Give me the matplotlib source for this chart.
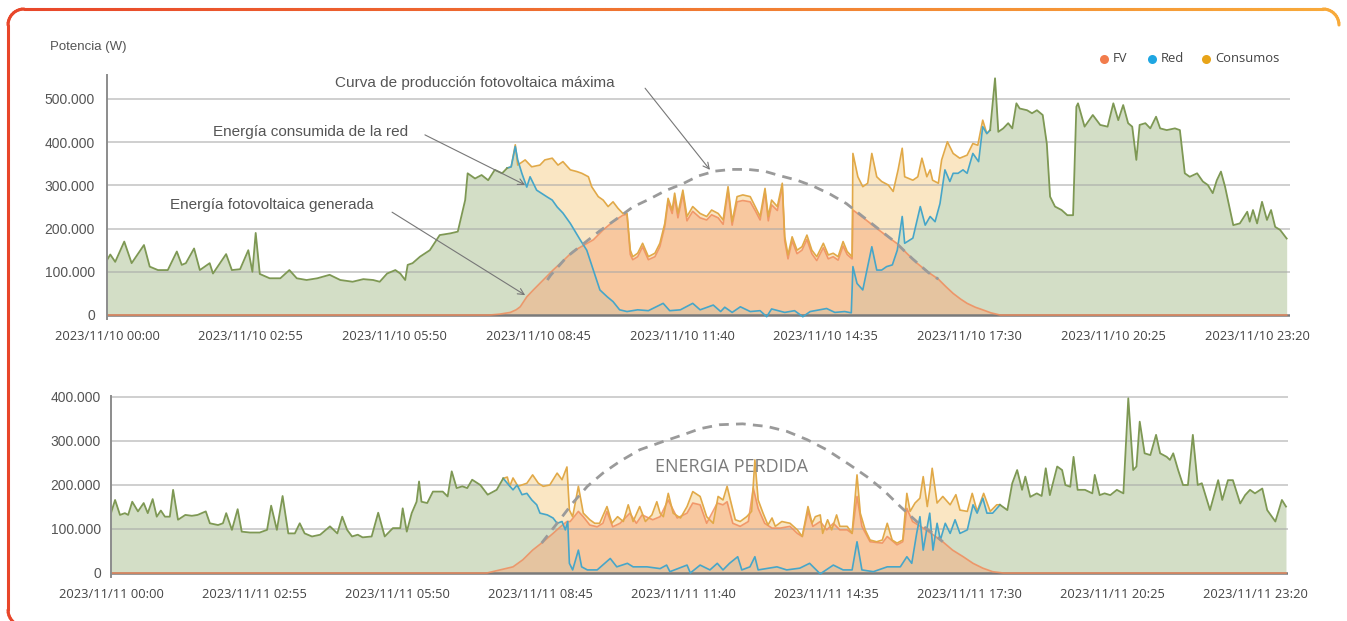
import numpy as np
import matplotlib
matplotlib.use("Agg")
import matplotlib.pyplot as plt
from matplotlib.collections import LineCollection
from matplotlib.ticker import FuncFormatter

# Minutes since 00:00 and power in kW (axis shows W)
# ---- 2023/11/10 ----
D1_CONS_T = [0, 4, 10, 21, 30, 45, 52, 62, 74, 85, 91, 96, 106, 113, 125, 129, 145, 152, 162, 172, 177, 181, 186,
             198, 211, 222, 231, 243, 256, 271, 284, 299, 312, 324, 332, 341, 351, 357, 363, 366, 372, 381, 393, 405,
             418, 427, 436, 439, 448, 456, 464, 472, 481, 487, 492, 497, 500, 509, 517, 527, 533, 542, 549, 555, 564,
             572, 578, 586, 590, 598, 604, 610, 616, 622, 628, 633, 637, 640, 646, 652, 659, 667, 673, 679, 683, 688,
             691, 695, 701, 706, 713, 722, 730, 736, 744, 750, 756, 761, 767, 774, 783, 789, 795, 801, 805, 809, 816,
             822, 825, 829, 834, 840, 846, 852, 858, 864, 872, 878, 884, 890, 896, 901, 907, 908, 914, 920, 926, 931,
             937, 943, 951, 957, 963, 968, 971, 981, 987, 992, 998, 1002, 1005, 1012, 1016, 1023, 1030, 1038, 1047,
             1054, 1060, 1066, 1071, 1075, 1081, 1085, 1091, 1097, 1102, 1107, 1111, 1120, 1126, 1132, 1139, 1144,
             1148, 1154, 1162, 1169, 1176, 1180, 1182, 1190, 1200, 1209, 1218, 1225, 1231, 1237, 1243, 1248, 1253,
             1257, 1264, 1270, 1277, 1282, 1290, 1300, 1306, 1312, 1318, 1327, 1334, 1340, 1346, 1351, 1356, 1361,
             1371, 1379, 1388, 1391, 1395, 1400, 1406, 1412, 1417, 1422, 1428, 1436]
D1_CONS_V = [127, 140, 123, 170, 120, 162, 112, 104, 104, 147, 116, 120, 154, 104, 120, 96, 141, 104, 106, 150, 100, 190,
             95, 85, 85, 104, 85, 81, 85, 93, 81, 77, 83, 81, 77, 96, 104, 96, 81, 116, 120, 135, 150, 185, 189, 193,
             266, 328, 316, 324, 312, 336, 328, 340, 343, 394, 347, 359, 343, 347, 359, 363, 347, 355, 336, 332, 328,
             320, 297, 274, 266, 251, 262, 247, 235, 235, 150, 135, 143, 166, 135, 143, 166, 212, 270, 243, 282, 235,
             289, 228, 251, 235, 228, 243, 235, 220, 297, 216, 274, 278, 274, 251, 228, 293, 228, 266, 251, 305, 181,
             139, 181, 150, 158, 185, 150, 135, 166, 139, 143, 135, 170, 147, 135, 374, 320, 297, 305, 374, 320, 309,
             301, 286, 336, 386, 320, 312, 320, 363, 320, 336, 312, 305, 359, 401, 374, 363, 370, 397, 393, 451, 420,
             428, 548, 424, 432, 444, 432, 490, 478, 474, 467, 474, 463, 397, 274, 251, 243, 231, 231, 482, 490, 436,
             463, 440, 436, 490, 451, 486, 444, 436, 359, 440, 444, 432, 459, 432, 428, 432, 428, 328, 320, 328, 309,
             301, 282, 312, 332, 297, 208, 212, 239, 216, 243, 212, 262, 220, 243, 204, 197, 177]
D1_RED_T = [487, 492, 497, 500, 505, 511, 515, 523, 536, 542, 548, 555, 564, 576, 584, 592, 600, 609, 616, 624, 633,
            646, 659, 677, 685, 698, 713, 722, 738, 747, 752, 761, 771, 783, 795, 803, 809, 825, 837, 847, 856, 876,
            886, 898, 906, 908, 913, 920, 931, 937, 943, 949, 956, 962, 968, 971, 981, 990, 996, 1002, 1008, 1014,
            1020, 1026, 1030, 1036, 1042, 1047, 1054, 1061, 1066, 1071, 1075]
D1_RED_V = [340, 343, 390, 359, 328, 296, 320, 289, 273, 266, 250, 236, 212, 174, 150, 104, 58, 42, 31, 12, 8,
            12, 10, 27, 10, 12, 27, 12, 23, 8, 18, 6, 19, 8, 10, -4, 14, 6, 10, -4, 8, 15,
            6, 8, 5, 112, 73, 58, 158, 104, 104, 112, 116, 150, 228, 166, 178, 251, 208, 228, 216, 258,
            336, 309, 328, 328, 336, 328, 374, 355, 436, 420, 428]
D1_FV_T = [0, 466, 478, 491, 498, 503, 511, 519, 531, 543, 555, 567, 579, 592, 604, 616, 628, 633, 637, 640, 646, 652,
           659, 667, 673, 679, 683, 688, 691, 695, 701, 706, 713, 722, 730, 736, 744, 750, 756, 761, 767, 774, 783,
           789, 795, 801, 805, 809, 816, 822, 825, 829, 834, 840, 846, 852, 858, 864, 872, 878, 884, 890, 896, 901,
           907, 908, 920, 932, 947, 962, 974, 986, 999, 1012, 1021, 1030, 1039, 1047, 1057, 1066, 1076, 1087, 1436]
D1_FV_V = [0, 0, 2, 6, 12, 19, 42, 58, 81, 104, 125, 147, 160, 174, 197, 216, 231, 233, 140, 128, 135, 158,
           128, 135, 158, 205, 262, 235, 272, 225, 280, 218, 240, 225, 220, 232, 225, 210, 288, 208, 262, 265, 262,
           242, 220, 285, 218, 255, 242, 298, 172, 130, 172, 142, 150, 175, 142, 126, 156, 130, 135, 127, 160, 140,
           130, 243, 226, 208, 186, 165, 142, 120, 100, 83, 66, 50, 37, 27, 18, 12, 5, 0, 0]
D1_MAX_T = [536, 540, 560, 580, 600, 620, 640, 660, 680, 700, 720, 740, 760, 780, 800, 820, 840, 860, 880, 900, 920,
            940, 960, 980, 1000, 1012]
D1_MAX_V = [81, 92, 135, 165, 195, 222, 250, 268, 288, 303, 322, 333, 337, 337, 333, 322, 312, 298, 280, 258, 228,
            198, 168, 131, 98, 83]

# ---- 2023/11/11 ----
D2_CONS_T = [0, 5, 11, 17, 21, 26, 33, 40, 45, 51, 56, 61, 66, 72, 76, 82, 91, 99, 106, 116, 121, 131, 137, 141, 148,
             155, 160, 170, 182, 191, 196, 203, 210, 217, 225, 231, 237, 246, 256, 268, 277, 283, 289, 295, 302, 308,
             319, 327, 335, 345, 354, 357, 362, 368, 374, 377, 380, 387, 394, 406, 412, 417, 423, 430, 436, 442, 452,
             461, 472, 480, 485, 488, 492, 498, 509, 516, 523, 529, 537, 546, 552, 558, 561, 565, 572, 578, 586, 592,
             598, 607, 613, 620, 627, 633, 639, 647, 654, 662, 668, 672, 676, 682, 688, 697, 705, 712, 721, 729, 737,
             743, 749, 754, 758, 764, 770, 778, 784, 788, 792, 798, 804, 809, 813, 821, 831, 840, 846, 853, 858, 862,
             868, 871, 877, 882, 888, 892, 901, 907, 913, 917, 923, 929, 937, 944, 950, 956, 962, 969, 974, 978, 984,
             990, 994, 999, 1002, 1005, 1011, 1018, 1027, 1034, 1039, 1048, 1054, 1060, 1068, 1076, 1084, 1088, 1097,
             1103, 1109, 1115, 1119, 1125, 1133, 1139, 1144, 1149, 1158, 1164, 1168, 1174, 1178, 1183, 1192, 1201,
             1204, 1210, 1216, 1223, 1231, 1239, 1245, 1251, 1255, 1259, 1265, 1272, 1279, 1284, 1292, 1296, 1300,
             1306, 1312, 1318, 1324, 1330, 1335, 1345, 1355, 1360, 1367, 1373, 1382, 1388, 1394, 1400, 1409, 1415,
             1425, 1433, 1438]
D2_CONS_V = [136, 166, 132, 136, 132, 162, 140, 159, 136, 168, 128, 142, 128, 128, 189, 121, 132, 130, 132, 140, 113,
             109, 113, 136, 98, 145, 94, 92, 92, 98, 153, 98, 175, 90, 90, 113, 90, 83, 87, 106, 90, 128, 98, 83, 87,
             81, 83, 137, 83, 102, 102, 147, 94, 136, 162, 208, 162, 159, 185, 185, 174, 231, 193, 197, 193, 212, 200,
             178, 189, 215, 218, 197, 216, 197, 204, 223, 204, 197, 200, 227, 212, 241, 143, 128, 197, 136, 121, 113,
             113, 151, 113, 128, 117, 155, 117, 151, 117, 132, 162, 136, 128, 181, 136, 125, 151, 185, 174, 128, 113,
             174, 166, 197, 166, 121, 117, 128, 140, 257, 166, 136, 109, 125, 106, 117, 113, 98, 83, 151, 113, 128,
             132, 90, 121, 98, 132, 106, 106, 90, 223, 136, 98, 75, 71, 75, 113, 75, 68, 75, 181, 140, 159,
             170, 219, 151, 189, 238, 159, 174, 155, 178, 143, 140, 181, 140, 181, 140, 155, 155, 143,
             204, 234, 189, 219, 173, 181, 175, 238, 177, 242, 234, 200, 196, 264, 189, 189, 181,
             223, 177, 181, 177, 189, 181, 397, 234, 242, 344, 272, 268, 314, 272, 264, 257, 272,
             234, 200, 200, 314, 200, 204, 143, 211, 166, 211, 211, 158, 177, 189, 181, 192, 143,
             117, 166, 151]
D2_RED_T = [480, 485, 492, 497, 503, 509, 515, 521, 525, 534, 541, 546, 552, 556, 559, 561, 565, 572, 576, 583, 595,
            611, 619, 632, 639, 656, 672, 680, 684, 705, 709, 721, 733, 742, 749, 757, 767, 772, 782, 788, 792, 815,
            827, 843, 855, 868, 884, 896, 907, 913, 919, 933, 950, 966, 974, 980, 986, 990, 994, 999, 1002, 1006,
            1011, 1015, 1021, 1027, 1033, 1039, 1048, 1055, 1060, 1067, 1072, 1079, 1088]
D2_RED_V = [215, 204, 189, 200, 178, 181, 166, 155, 136, 132, 125, 113, 117, 98, 117, 22, 7, 52, 14, 7, 7,
            33, 14, 22, 14, 14, 10, 18, 3, 18, 0, 18, 7, 22, 7, 22, 37, 7, 14, 37, 7, 14,
            7, 11, 22, -2, 18, 7, 7, 71, 7, 3, 14, 14, 37, 22, 90, 128, 52, 106, 136, 52,
            113, 75, 113, 90, 121, 90, 98, 155, 136, 170, 136, 136, 155]
D2_FV_T = [0, 460, 476, 492, 504, 516, 529, 541, 550, 558, 562, 572, 578, 586, 595, 602, 607, 614, 623, 635, 643, 650,
           663, 672, 682, 693, 705, 712, 721, 729, 742, 749, 754, 761, 770, 780, 786, 792, 800, 809, 819, 831, 840,
           846, 853, 859, 868, 876, 884, 892, 901, 907, 913, 919, 929, 944, 950, 962, 969, 974, 981, 994, 1006, 1018,
           1030, 1043, 1055, 1067, 1079, 1092, 1438]
D2_FV_V = [0, 0, 7, 14, 30, 52, 71, 90, 105, 117, 117, 140, 128, 109, 105, 113, 140, 105, 113, 136, 113, 132,
           121, 128, 166, 125, 136, 159, 155, 113, 159, 155, 162, 113, 106, 117, 193, 147, 113, 102, 102, 106, 90,
           83, 140, 106, 117, 98, 113, 98, 98, 90, 174, 106, 71, 68, 83, 64, 71, 147, 117, 102, 87, 71,
           52, 37, 22, 11, 3, 0, 0]
D2_MAX_T = [527, 546, 565, 583, 602, 623, 647, 676, 700, 721, 745, 773, 803, 827, 852, 876, 904, 925, 945, 966, 986,
            1006, 1018]
D2_MAX_V = [68, 113, 159, 197, 227, 254, 280, 299, 314, 328, 337, 339, 333, 322, 303, 280, 246, 219, 189, 151, 117,
            90, 71]

DAYS = ["2023/11/10", "2023/11/11"]
TICK_MIN = [0, 175, 350, 525, 700, 875, 1050, 1225, 1400]
TICK_HHMM = ["00:00", "02:55", "05:50", "08:45", "11:40", "14:35", "17:30", "20:25", "23:20"]
LEGEND = ["FV", "Red", "Consumos"]

# colours
CONS_FILL = "#fae6c3"
RED_FILL = "#d3dec6"
FV_FILL = "#f7ab7c"
FV_LINE = "#f08c5c"
CONS_LINE = "#e1a948"
NIGHT_LINE = "#7e9854"
RED_LINE = "#46a6c9"
MAX_LINE = "#9a9a9a"
TXT = "#555555"

W, H = 1347, 621
fig = plt.figure(figsize=(W / 100, H / 100), dpi=100)


def px_axes(x0, y_top, w, y_bot):
    return fig.add_axes([x0 / W, (H - y_bot) / H, w / W, (y_bot - y_top) / H])


def draw_day(ax, ct, cv, rt, rv, ft, fv, mt, mv):
    ct, rt, ft, mt = map(np.asarray, (ct, rt, ft, mt))
    cv, rv, fv, mv = [np.asarray(v, dtype=float) * 1000 for v in (cv, rv, fv, mv)]
    t0, t1 = rt[0], rt[-1]
    night = (ct <= t0) | (ct >= t1)
    day = (ct >= t0) & (ct <= t1)

    # grid-supplied area: consumption at night, grid curve during the day (one polygon, no seams)
    gt = np.concatenate([ct[ct < t0], rt, ct[ct > t1]])
    gv = np.concatenate([cv[ct < t0], rv, cv[ct > t1]])

    ax.fill_between(ct, 0, cv, where=day, color=CONS_FILL, lw=0, zorder=1)
    ax.fill_between(gt, 0, gv, color=RED_FILL, lw=0, zorder=1.1)
    ax.fill_between(ft, 0, fv, color=FV_FILL, alpha=0.5, lw=0, zorder=1.2)

    for g in ax.get_yticks()[1:]:
        ax.axhline(g, color="#a8a8a8", alpha=0.55, lw=1.4, zorder=1.5)
    ax.axhline(0, color="#7a7a7a", lw=1.8, zorder=1.6)

    ax.plot(ft, fv, color=FV_LINE, lw=1.2, alpha=0.85, zorder=2)
    ax.plot(ct, np.where(day, cv, np.nan), color=CONS_LINE, lw=1.2, zorder=2.2)
    ax.plot(rt, rv, color=RED_LINE, lw=1.2, zorder=2.3)
    ax.plot(ct, np.where(night, cv, np.nan), color=NIGHT_LINE, lw=1.3, zorder=2.4)
    ax.plot(mt, mv, color=MAX_LINE, lw=2.0, dashes=(3.5, 2.6), zorder=3)


def style_axes(ax, ymin, ymax, ystep, day, ypad):
    ax.set_xlim(0, 1440)
    ax.set_ylim(ymin, ymax)
    ax.set_yticks(np.arange(0, ymax, ystep))
    ax.yaxis.set_major_formatter(FuncFormatter(lambda v, p: f"{int(round(v)):,}".replace(",", ".")))
    ax.set_xticks(TICK_MIN)
    ax.set_xticklabels([f"{day} {h}" for h in TICK_HHMM], fontfamily="Open Sans", fontsize=9.3, color="#444444")
    for lab in ax.get_yticklabels():
        lab.set_fontfamily("Liberation Sans")
        lab.set_fontsize(10)
        lab.set_color(TXT)
    ax.tick_params(axis="x", length=0, pad=8)
    ax.tick_params(axis="y", length=0, pad=ypad)
    for s in ("top", "right", "bottom"):
        ax.spines[s].set_visible(False)
    ax.spines["left"].set_color("#8c8c8c")
    ax.spines["left"].set_linewidth(1.4)
    ax.patch.set_alpha(0)


# top panel: 0 W at y=315 px, 43.2 px per 100 kW
ax1 = px_axes(107, 315 - 555 * 0.432, 1440 * 0.8215, 315 + 10 * 0.432)
style_axes(ax1, -10000, 555000, 100000, DAYS[0], 8.6)
draw_day(ax1, D1_CONS_T, D1_CONS_V, D1_RED_T, D1_RED_V, D1_FV_T, D1_FV_V, D1_MAX_T, D1_MAX_V)

# bottom panel: 0 W at y=573 px, 44 px per 100 kW
ax2 = px_axes(111, 573 - 402 * 0.44, 1440 * 0.8171, 573 + 8 * 0.44)
style_axes(ax2, -8000, 402000, 100000, DAYS[1], 7.2)
draw_day(ax2, D2_CONS_T, D2_CONS_V, D2_RED_T, D2_RED_V, D2_FV_T, D2_FV_V, D2_MAX_T, D2_MAX_V)

# annotations
arrow = dict(arrowstyle="->", color="#777777", lw=0.8, shrinkA=0, shrinkB=0, mutation_scale=11)
lab_kw = dict(fontfamily="Liberation Sans", fontsize=11, color=TXT, va="center", ha="left", zorder=6)
ax1.text(278, 537000, "Curva de producción fotovoltaica máxima", **lab_kw)
ax1.annotate("", xy=(734, 336000), xytext=(655, 525000), arrowprops=arrow, zorder=6)
ax1.text(129, 424000, "Energía consumida de la red", **lab_kw)
ax1.annotate("", xy=(509, 301000), xytext=(387, 417000), arrowprops=arrow, zorder=6)
ax1.text(77, 255000, "Energía fotovoltaica generada", **lab_kw)
ax1.annotate("", xy=(509, 46000), xytext=(347, 238000), arrowprops=arrow, zorder=6)
ax2.text(666, 241000, "ENERGIA PERDIDA", fontfamily="Open Sans", fontsize=13, color="#7b7b7b",
         va="center", ha="left", zorder=6)

# overlay in pixel coordinates: frame, unit label, legend
bg = fig.add_axes([0, 0, 1, 1], zorder=-1)
bg.set_xlim(0, W)
bg.set_ylim(H, 0)
bg.axis("off")

r, x0, y0, x1, yb = 16, 8, 9, 1339, 626
pts = [(x0 + r + r * np.cos(a), yb - r + r * np.sin(a)) for a in np.linspace(np.pi / 2, np.pi, 10)]
pts += [(x0, y) for y in np.linspace(yb - r, y0 + r, 40)]
pts += [(x0 + r + r * np.cos(a), y0 + r + r * np.sin(a)) for a in np.linspace(np.pi, 1.5 * np.pi, 12)]
pts += [(x, y0) for x in np.linspace(x0 + r, x1 - r, 200)]
pts += [(x1 - r + r * np.cos(a), y0 + r + r * np.sin(a)) for a in np.linspace(1.5 * np.pi, 2 * np.pi, 12)]
pts = np.array(pts)
segs = np.stack([pts[:-1], pts[1:]], axis=1)
frac = np.clip((segs[:, :, 0].mean(axis=1) - x0) / (x1 - x0), 0, 1)
c0, c1 = np.array([232, 70, 42]) / 255, np.array([248, 170, 58]) / 255
cols = c0[None, :] * (1 - frac[:, None]) + c1[None, :] * frac[:, None]
bg.add_collection(LineCollection(segs, colors=cols, linewidths=2.2, capstyle="round"))

bg.text(50, 47, "Potencia (W)", fontfamily="Liberation Sans", fontsize=9.5, color=TXT, va="center")

for (dx, lab, col) in zip([1104, 1152, 1206], LEGEND, ["#f27c4c", "#1fa6e2", "#e8a418"]):
    bg.plot(dx, 59, "o", ms=6.5, color=col, mec="none")
    bg.text(dx + 9, 59, lab, fontfamily="Open Sans", fontsize=9.4, color="#444444", va="center")

fig.savefig("out.png", dpi=100)
